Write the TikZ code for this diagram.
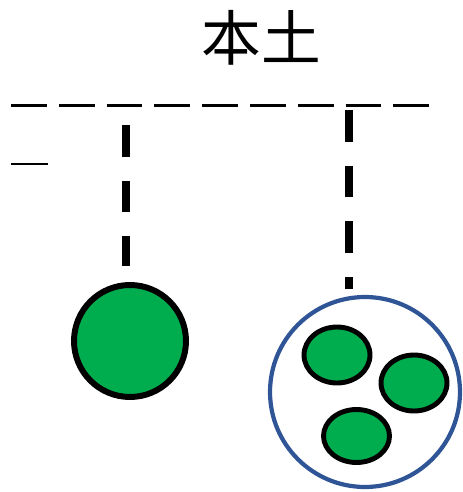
\documentclass[tikz,border=0pt]{standalone}
\usepackage{fontspec}
\newfontfamily\cjk{Noto Sans CJK SC}
\usetikzlibrary{shapes.geometric}
\definecolor{cellgreen}{HTML}{00AD4E}
\definecolor{wallblue}{HTML}{2F5597}

\begin{document}
\begin{tikzpicture}[x=0.02cm,y=-0.02cm,
    cell/.style={circle,draw=black,fill=cellgreen,line width=3.4pt,inner sep=0pt,minimum size=2.24cm},
    smallcell/.style={ellipse,draw=black,fill=cellgreen,line width=2.8pt,inner sep=0pt,minimum width=1.32cm,minimum height=1.12cm},
    hang/.style={line width=4.4pt,dash pattern=on 18.1pt off 13.6pt}]
    \useasboundingbox (0,0) rectangle (462,492);

    % 标题
    \node[font=\cjk\fontsize{34pt}{40pt}\selectfont] (title) at (261,38) {本土};

    % 水平虚线
    \draw[line width=1.7pt,dash pattern=on 20.4pt off 6.8pt] (11,105.5) -- (431,105.5);
    \draw[line width=1.7pt] (11,164) -- (47.7,164);

    % 左边的细胞
    \node[cell] (left) at (130,341) {};
    \coordinate (lefttop) at (126,125);
    \draw[hang,shorten >=9pt] (lefttop) -- (lefttop |- left.north);

    % 右边的大圆和三个小细胞
    \node[circle,draw=wallblue,line width=2.4pt,inner sep=0pt,minimum size=3.8cm] (wall) at (365,392) {};
    \node[smallcell] (c1) at (337,355) {};
    \node[smallcell] (c2) at (414,383) {};
    \node[smallcell,minimum height=1.06cm] (c3) at (356.5,436) {};
    \coordinate (righttop) at (349,110);
    \draw[hang,shorten >=3.6pt] (righttop) -- (righttop |- wall.north);

\end{tikzpicture}
\end{document}
